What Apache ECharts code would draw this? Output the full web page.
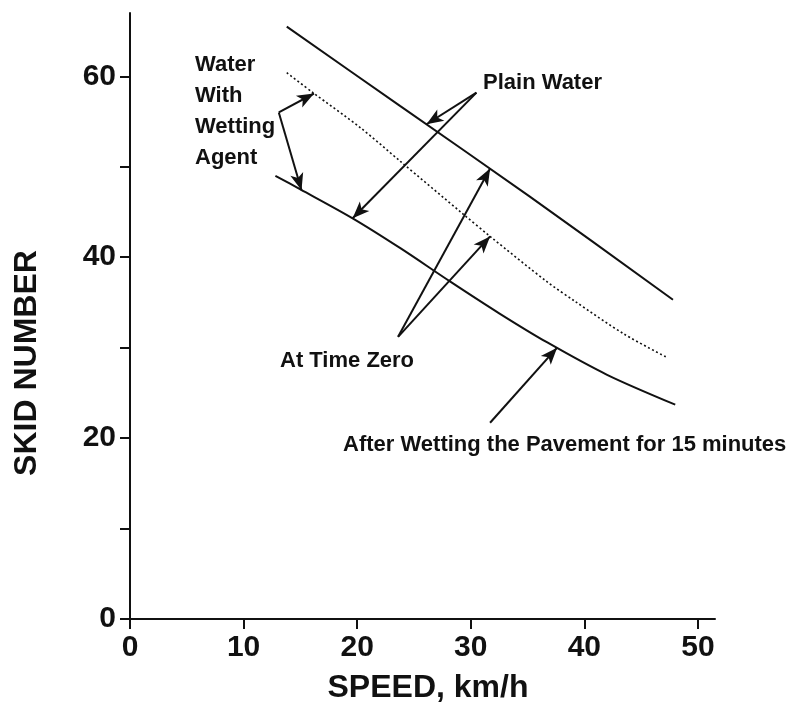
<!DOCTYPE html>
<html>
<head>
<meta charset="utf-8">
<script src="https://cdn.jsdelivr.net/npm/echarts@6/dist/echarts.min.js"></script>
<style>
  html, body { margin: 0; padding: 0; background: #fff; }
  #chart { width: 797px; height: 707px; }
</style>
</head>
<body>
<div id="chart"></div>
<script>
// curves (speed km/h, skid number)
const plainWaterSpeed = [13.8, 23.8, 35.2, 47.8];
const plainWaterSkid = [65.5, 56.7, 46.7, 35.3];

const wettingAgentSpeed = [13.8, 16.1, 20.3, 23.8, 29.3, 31.7, 36.7, 39.2, 43.5, 47.3];
const wettingAgentSkid = [60.4, 58.2, 54.3, 50.6, 44.8, 42.3, 37.3, 35.1, 31.5, 28.9];

const after15Speed = [12.8, 15.0, 19.6, 23.8, 28.2, 32.5, 36.7, 42.0, 48.0];
const after15Skid = [49.0, 47.5, 44.3, 41.0, 37.3, 33.8, 30.6, 27.0, 23.7];

// tick values
const xTicks = [0, 10, 20, 30, 40, 50];
const yTicks = [0, 10, 20, 30, 40, 50, 60];
const yLabels = [0, 20, 40, 60];

// annotation arrows, [from, to] in data units
const arrows = [
  [[30.5, 58.2], [26.1, 54.7]], // Plain Water -> top line
  [[30.5, 58.2], [19.6, 44.3]], // Plain Water -> after 15 min
  [[13.1, 56.0], [16.2, 58.1]], // wetting agent -> dotted
  [[13.1, 56.0], [15.1, 47.4]], // wetting agent -> after 15 min
  [[23.6, 31.2], [31.7, 49.8]], // time zero -> top line
  [[23.6, 31.2], [31.7, 42.3]], // time zero -> dotted
  [[31.7, 21.7], [37.6, 30.0]]  // after wetting -> bottom
];

const FONT = "'Liberation Sans', Arial, Helvetica, sans-serif";
const INK = "#111";

const zip = (xs, ys) => xs.map((x, i) => [x, ys[i]]);

const chart = echarts.init(document.getElementById("chart"));

const txt = (text, x, y, extra) => ({
  type: "text",
  x: x,
  y: y,
  silent: true,
  style: Object.assign({
    text: text,
    fill: INK,
    font: "bold 22px " + FONT,
    align: "left",
    verticalAlign: "middle"
  }, extra || {})
});

chart.setOption({
  animation: false,
  backgroundColor: "#fff",
  grid: { left: 130, right: 82, top: 13, bottom: 88 },
  xAxis: {
    type: "value",
    min: 0,
    max: 51.5,
    splitLine: { show: false },
    axisLine: { onZero: false, lineStyle: { color: INK, width: 2 } },
    axisTick: { show: true, length: 10, customValues: xTicks, lineStyle: { color: INK, width: 2 } },
    axisLabel: {
      customValues: xTicks,
      margin: 14,
      color: INK,
      fontFamily: FONT,
      fontWeight: "bold",
      fontSize: 30
    }
  },
  yAxis: {
    type: "value",
    min: 0,
    max: 67,
    splitLine: { show: false },
    axisLine: { show: true, onZero: false, lineStyle: { color: INK, width: 2 } },
    axisTick: { show: true, length: 10, customValues: yTicks, lineStyle: { color: INK, width: 2 } },
    axisLabel: {
      customValues: yLabels,
      margin: 14,
      color: INK,
      fontFamily: FONT,
      fontWeight: "bold",
      fontSize: 30
    }
  },
  series: [
    {
      name: "Plain Water",
      type: "line",
      data: zip(plainWaterSpeed, plainWaterSkid),
      smooth: 0.3,
      showSymbol: false,
      lineStyle: { color: INK, width: 2 }
    },
    {
      name: "Water With Wetting Agent",
      type: "line",
      data: zip(wettingAgentSpeed, wettingAgentSkid),
      smooth: 0.3,
      showSymbol: false,
      lineStyle: { color: INK, width: 1.6, type: [2, 2.5] }
    },
    {
      name: "After Wetting 15 min",
      type: "line",
      data: zip(after15Speed, after15Skid),
      smooth: 0.3,
      showSymbol: false,
      lineStyle: { color: INK, width: 2 },
      markLine: {
        silent: true,
        symbol: ["none", "arrow"],
        symbolSize: [10, 17],
        label: { show: false },
        lineStyle: { color: INK, width: 2, type: "solid" },
        data: arrows.map(a => [{ coord: a[0] }, { coord: a[1] }])
      }
    }
  ],
  graphic: [
    txt("Plain Water", 483, 83),
    txt("Water\nWith\nWetting\nAgent", 195, 111, { lineHeight: 31 }),
    txt("At Time Zero", 280, 361),
    txt("After Wetting the Pavement for 15 minutes", 343, 445),
    txt("SPEED, km/h", 428, 688, { font: "bold 32px " + FONT, align: "center" }),
    {
      type: "text",
      x: 27,
      y: 363,
      rotation: Math.PI / 2,
      silent: true,
      style: {
        text: "SKID NUMBER",
        fill: INK,
        font: "bold 32px " + FONT,
        align: "center",
        verticalAlign: "middle"
      }
    }
  ]
});
</script>
</body>
</html>
